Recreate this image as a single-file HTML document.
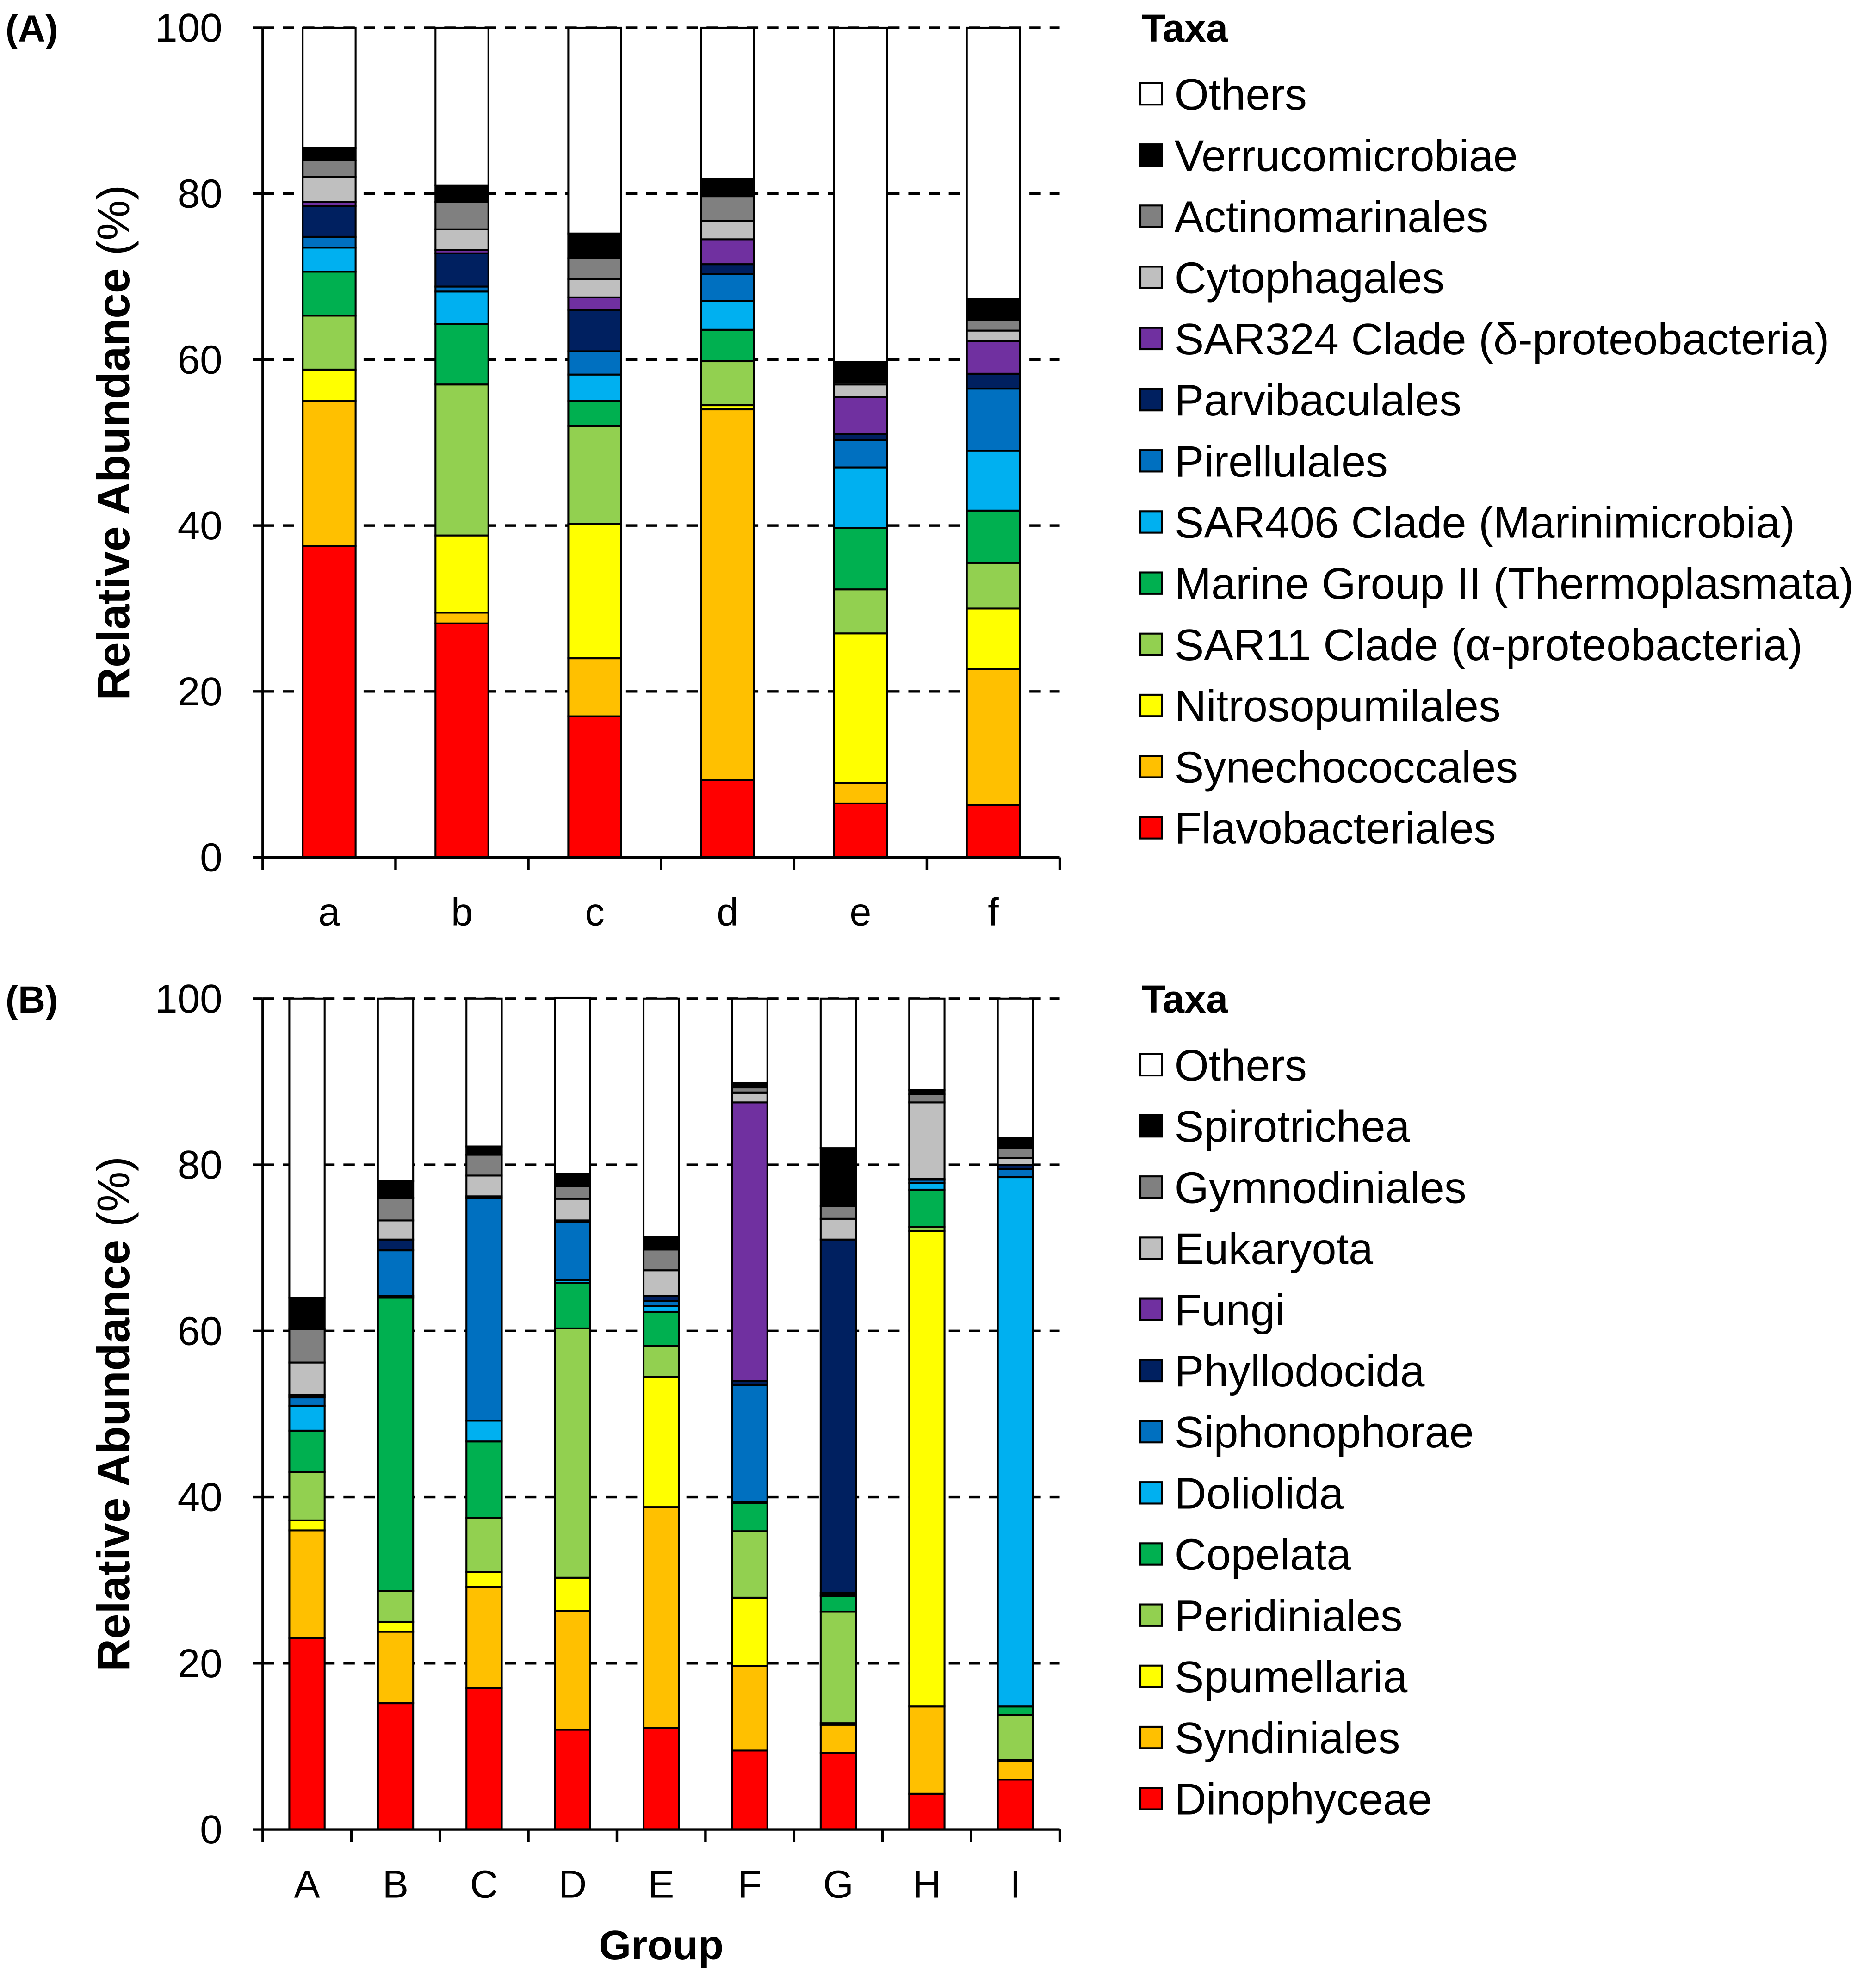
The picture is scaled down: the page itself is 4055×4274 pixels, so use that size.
<!DOCTYPE html>
<html><head><meta charset="utf-8">
<style>
html,body{margin:0;padding:0;background:#fff;}
svg{display:block;font-family:"Liberation Sans",Arial,sans-serif;}
</style></head>
<body>
<svg id="chart" xmlns="http://www.w3.org/2000/svg" width="4055" height="4274" viewBox="0 0 1487 1568">
<rect width="1487" height="1568" fill="#fff"/>
</svg>
<script>
// ---------- Panel A data ----------
const catsA = ['a','b','c','d','e','f'];
const taxaA = ['Flavobacteriales','Synechococcales','Nitrosopumilales','SAR11 Clade (α-proteobacteria)','Marine Group II (Thermoplasmata)','SAR406 Clade (Marinimicrobia)','Pirellulales','Parvibaculales','SAR324 Clade (δ-proteobacteria)','Cytophagales','Actinomarinales','Verrucomicrobiae','Others'];
const flavoA   = [37.5, 28.2, 17.0, 9.3, 6.5, 6.3];
const synA     = [17.5, 1.3, 7.0, 44.7, 2.5, 16.4];
const nitroA   = [3.8, 9.3, 16.2, 0.5, 18.0, 7.3];
const sar11A   = [6.5, 18.2, 11.8, 5.3, 5.3, 5.5];
const mg2A     = [5.3, 7.3, 3.0, 3.8, 7.4, 6.3];
const sar406A  = [2.9, 3.9, 3.2, 3.5, 7.3, 7.2];
const pirelA   = [1.3, 0.6, 2.8, 3.2, 3.3, 7.5];
const parviA   = [3.7, 4.0, 5.0, 1.2, 0.7, 1.8];
const sar324A  = [0.5, 0.4, 1.5, 3.0, 4.5, 3.9];
const cytoA    = [3.0, 2.5, 2.2, 2.2, 1.5, 1.3];
const actinoA  = [2.0, 3.3, 2.5, 3.0, 0.3, 1.3];
const verrA    = [1.5, 2.0, 3.0, 2.1, 2.4, 2.5];
const othersA  = [14.5, 19.0, 24.8, 18.2, 40.3, 32.7];
const seriesA = [flavoA,synA,nitroA,sar11A,mg2A,sar406A,pirelA,parviA,sar324A,cytoA,actinoA,verrA,othersA];

// ---------- Panel B data ----------
const catsB = ['A','B','C','D','E','F','G','H','I'];
const taxaB = ['Dinophyceae','Syndiniales','Spumellaria','Peridiniales','Copelata','Doliolida','Siphonophorae','Phyllodocida','Fungi','Eukaryota','Gymnodiniales','Spirotrichea','Others'];
const dinoB   = [23.0, 15.2, 17.0, 12.0, 12.2, 9.5, 9.2, 4.3, 6.0];
const syndB   = [13.0, 8.6, 12.2, 14.3, 26.6, 10.2, 3.4, 10.5, 2.2];
const spumB   = [1.2, 1.2, 1.8, 4.0, 15.7, 8.2, 0.2, 57.2, 0.2];
const peridB  = [5.8, 3.7, 6.5, 30.0, 3.7, 8.0, 13.4, 0.5, 5.4];
const copeB   = [5.0, 35.3, 9.2, 5.5, 4.1, 3.4, 1.9, 4.5, 1.0];
const dolioB  = [3.0, 0.2, 2.5, 0.3, 0.7, 0.1, 0.1, 0.8, 63.7];
const siphB   = [1.0, 5.5, 26.8, 7.0, 0.6, 14.1, 0.3, 0.4, 1.0];
const phyllB  = [0.3, 1.3, 0.2, 0.2, 0.6, 0.5, 42.5, 0.1, 0.5];
const fungiB  = [0, 0, 0, 0, 0, 33.5, 0, 0, 0];
const eukB    = [3.9, 2.3, 2.5, 2.6, 3.1, 1.2, 2.5, 9.2, 0.8];
const gymB    = [4.0, 2.7, 2.5, 1.5, 2.5, 0.6, 1.5, 1.0, 1.2];
const spiroB  = [3.8, 2.0, 1.0, 1.5, 1.5, 0.5, 7.0, 0.5, 1.2];
const othersB = [36.0, 22.0, 17.8, 21.2, 28.7, 10.2, 18.0, 11.0, 16.8];
const seriesB = [dinoB,syndB,spumB,peridB,copeB,dolioB,siphB,phyllB,fungiB,eukB,gymB,spiroB,othersB];

const yTicks = [0,20,40,60,80,100];
const colors = ['#ff0000','#ffc000','#ffff00','#92d050','#00b050','#00b0f0','#0070c0','#002060','#7030a0','#bfbfbf','#808080','#000000','#ffffff'];

const NS='http://www.w3.org/2000/svg';
const svg=document.getElementById('chart');
function mk(tag,attrs,parent){const e=document.createElementNS(NS,tag);for(const k in attrs)e.setAttribute(k,attrs[k]);(parent||svg).appendChild(e);return e;}
function slug(s){return s.toLowerCase().replace(/[^a-z0-9]+/g,'-').replace(/^-|-$/g,'');}

function panel(p){
  const g=mk('g',{});
  
  
  const x0=208,x1=840;
  const yScale=v=>p.yBot-(p.yBot-p.yTop)*v/100;
  const bw=(x1-x0)/p.cats.length;
  const xCenter=i=>x0+bw*(i+0.5);
  yTicks.forEach(t=>{
    if(t>0){const l=mk('line',{x1:x0,x2:x1,y1:yScale(t),y2:yScale(t),stroke:'#000','stroke-width':2,'stroke-dasharray':'9,7'},g);
      
      }
    const tk=mk('line',{x1:x0-8,x2:x0,y1:yScale(t),y2:yScale(t),stroke:'#000','stroke-width':2},g);
    
    
    const tl=mk('text',{x:176,y:yScale(t)+11,'text-anchor':'end','font-size':32,fill:'#000'},g);
    tl.textContent=t;
    
    
  });
  p.cats.forEach((c,i)=>{
    let cum=0;
    p.series.forEach((s,k)=>{
      const v=s[i]; if(v<=0){return;}
      const yt=yScale(cum+v), yb=yScale(cum);
      const r=mk('rect',{x:xCenter(i)-p.barW/2,y:yt,width:p.barW,height:yb-yt,fill:colors[k],stroke:'#000','stroke-width':1.5},g);
      
      
      cum+=v;
    });
    const xl=mk('text',{x:xCenter(i),y:p.yBot+54,'text-anchor':'middle','font-size':31,fill:'#000'},g);
    xl.textContent=c;
    
    
  });
  const ya=mk('line',{x1:x0,x2:x0,y1:p.yTop,y2:p.yBot,stroke:'#000','stroke-width':2},g);
  
  
  const xa=mk('line',{x1:x0,x2:x1,y1:p.yBot,y2:p.yBot,stroke:'#000','stroke-width':2},g);
  
  
  for(let i=0;i<=p.cats.length;i++){
    const t=mk('line',{x1:x0+bw*i,x2:x0+bw*i,y1:p.yBot,y2:p.yBot+10,stroke:'#000','stroke-width':2},g);
    
    
  }
  const cy=(p.yTop+p.yBot)/2;
  const yt=mk('text',{x:102,y:cy,'text-anchor':'middle','font-size':36,transform:`rotate(-90 102 ${cy})`},g);
  
  
  const b=mk('tspan',{'font-weight':'bold'},yt); b.textContent='Relative Abundance ';
  const n=mk('tspan',{},yt); n.textContent='(%)';
  const pl=mk('text',{x:4,y:p.yTop+11,'font-size':30,'font-weight':'bold'},g);
  pl.textContent='('+p.id+')';
  
  
  const lg=mk('g',{},g);
  
  
  const lt=mk('text',{x:905,y:p.yTop+11,'font-size':31,'font-weight':'bold'},lg);
  lt.textContent='Taxa';
  
  
  for(let k=p.taxa.length-1,j=0;k>=0;k--,j++){
    const y=p.yTop+53+j*48.5;
    const e=mk('g',{},lg);
    
    
    mk('rect',{x:904,y:y-9,width:17,height:17,fill:colors[k],stroke:'#000','stroke-width':1.5},e);
    const tx=mk('text',{x:931,y:y+12,'font-size':35},e);
    tx.textContent=p.taxa[k];
  }
}
panel({id:'A',cats:catsA,taxa:taxaA,series:seriesA,yTop:22,yBot:680,barW:42});
panel({id:'B',cats:catsB,taxa:taxaB,series:seriesB,yTop:792,yBot:1451,barW:28});
const gx=mk('text',{x:524,y:1554,'text-anchor':'middle','font-size':33,'font-weight':'bold'});
gx.textContent='Group';


</script>
</body></html>
